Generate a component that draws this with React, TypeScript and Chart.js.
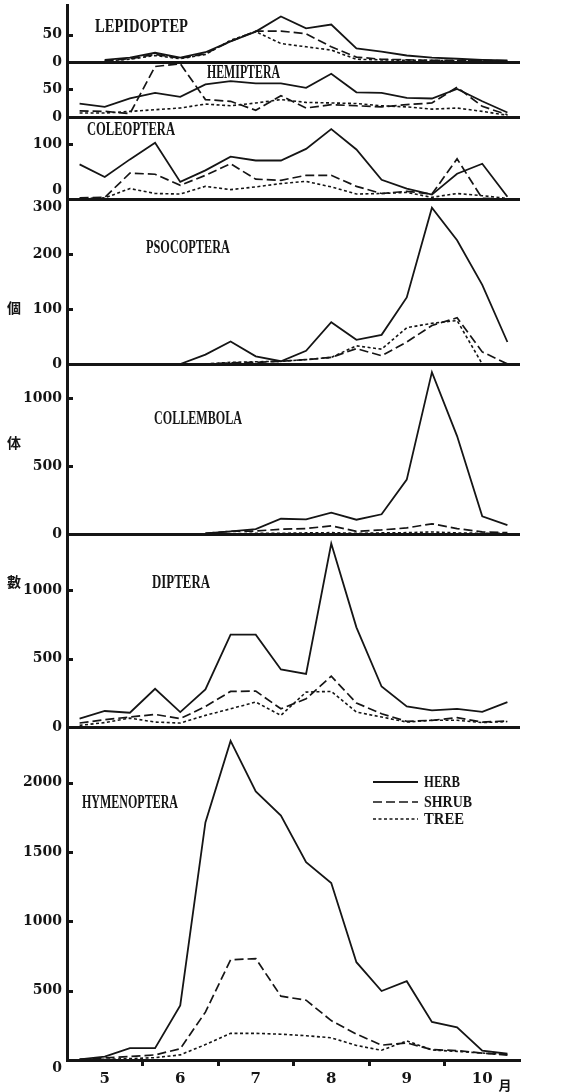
import React, { useEffect, useRef } from 'react';
import { Chart, registerables } from 'chart.js';

Chart.register(...registerables);

const INK = '#151515';

// x: centres of the ten-day periods (early May ... late October), in dekad units
const dekadCenters = [0.5, 1.5, 2.5, 3.5, 4.5, 5.5, 6.5, 7.5, 8.5, 9.5, 10.5, 11.5, 12.5, 13.5, 14.5, 15.5, 16.5, 17.5];
const monthLabels = ['5', '6', '7', '8', '9', '10'];
const monthCenters = [1.5, 4.5, 7.5, 10.5, 13.5, 16.5];
const monthBoundaries = [3, 6, 9, 12, 15];
const seriesNames = ['HERB', 'SHRUB', 'TREE'];
const yUnitChars = ['個', '体', '數'];
const monthUnit = '月';

// LEPIDOPTERA
const lepHerb = [null, 4, 8, 17, 8, 18, 38, 56, 84, 62, 69, 25, 19, 12, 8, 6, 4, 3];
const lepShrub = [null, 3, 6, 14, 7, 15, 38, 57, 57, 52, 28, 9, 5, 4, 3, 3, 3, 2];
const lepTree = [null, 2, 5, 12, 6, 14, 40, 56, 34, 28, 22, 5, 4, 3, 3, 2, 2, 2];
const lepTicks = [0, 50];

// HEMIPTERA
const hemHerb = [24, 18, 33, 43, 36, 58, 64, 60, 60, 52, 77, 44, 43, 34, 33, 50, 28, 8];
const hemShrub = [11, 10, 6, 90, 95, 31, 28, 12, 38, 16, 22, 20, 18, 22, 25, 53, 19, 4];
const hemTree = [7, 7, 10, 13, 16, 23, 20, 25, 31, 26, 25, 24, 20, 18, 14, 16, 10, 3];
const hemTicks = [0, 50];

// COLEOPTERA
const colHerb = [63, 40, 72, 102, 31, 52, 77, 70, 70, 91, 127, 90, 35, 19, 8, 46, 64, 4];
const colShrub = [2, 3, 47, 45, 25, 43, 64, 36, 34, 43, 43, 23, 10, 14, 9, 73, 1, 0];
const colTree = [1, 2, 19, 10, 9, 23, 17, 22, 28, 32, 22, 9, 10, 12, 3, 10, 6, 1];
const colTicks = [0, 100];

// PSOCOPTERA
const psoHerb = [null, null, null, null, 0, 17, 41, 14, 5, 24, 76, 44, 53, 121, 284, 225, 144, 40];
const psoShrub = [null, null, null, null, null, 0, 2, 3, 5, 8, 12, 28, 15, 40, 70, 84, 22, 0];
const psoTree = [null, null, null, null, null, 0, 3, 4, 5, 8, 12, 33, 27, 66, 74, 79, 0, null];
const psoTicks = [0, 100, 200, 300];

// COLLEMBOLA
const cllHerb = [null, null, null, null, null, 5, 20, 36, 112, 108, 157, 105, 145, 400, 1190, 720, 130, 65];
const cllShrub = [null, null, null, null, null, 5, 20, 22, 35, 40, 60, 20, 30, 45, 75, 40, 15, 10];
const cllTree = [null, null, null, null, null, 0, 3, 5, 5, 8, 10, 5, 8, 10, 15, 8, 5, 5];
const cllTicks = [0, 500, 1000];

// DIPTERA
const dipHerb = [61, 117, 104, 279, 109, 274, 675, 675, 420, 388, 1340, 728, 296, 150, 121, 133, 110, 182];
const dipShrub = [29, 53, 73, 92, 61, 150, 260, 262, 133, 206, 371, 175, 97, 41, 49, 68, 36, 44];
const dipTree = [12, 32, 65, 36, 29, 85, 133, 182, 85, 255, 260, 109, 73, 36, 49, 49, 32, 40];
const dipTicks = [0, 500, 1000];

// HYMENOPTERA
const hymHerb = [5, 25, 85, 85, 394, 1712, 2300, 1935, 1762, 1426, 1275, 705, 497, 568, 274, 236, 68, 45];
const hymShrub = [5, 15, 25, 37, 81, 345, 722, 731, 460, 431, 284, 187, 107, 123, 75, 68, 50, 35];
const hymTree = [3, 5, 10, 17, 37, 111, 192, 192, 186, 175, 160, 105, 70, 138, 72, 62, 50, 40];
const hymTicks = [0, 500, 1000, 1500, 2000];

const panels = [
  { id: 'yLep', title: 'LEPIDOPTEP', herb: lepHerb, shrub: lepShrub, tree: lepTree, ticks: lepTicks, max: 105, weight: 57, shift: {}, tb: { dx: 28, dy: 22, w: 93 } },
  { id: 'yHem', title: 'HEMIPTERA', herb: hemHerb, shrub: hemShrub, tree: hemTree, ticks: hemTicks, max: 98, weight: 55, shift: {}, tb: { dx: 140, dy: 11, w: 73 } },
  { id: 'yCol', title: 'COLEOPTERA', herb: colHerb, shrub: colShrub, tree: colTree, ticks: colTicks, max: 149, weight: 82, shift: { 0: 'up' }, tb: { dx: 20, dy: 13, w: 88 } },
  { id: 'yPso', title: 'PSOCOPTERA', herb: psoHerb, shrub: psoShrub, tree: psoTree, ticks: psoTicks, max: 300, weight: 165, shift: { 300: 'down' }, tb: { dx: 79, dy: 49, w: 84 } },
  { id: 'yCll', title: 'COLLEMBOLA', herb: cllHerb, shrub: cllShrub, tree: cllTree, ticks: cllTicks, max: 1250, weight: 170, shift: {}, tb: { dx: 87, dy: 55, w: 88 } },
  { id: 'yDip', title: 'DIPTERA', herb: dipHerb, shrub: dipShrub, tree: dipTree, ticks: dipTicks, max: 1410, weight: 193, shift: {}, tb: { dx: 85, dy: 49, w: 58 } },
  { id: 'yHym', title: 'HYMENOPTERA', herb: hymHerb, shrub: hymShrub, tree: hymTree, ticks: hymTicks, max: 2400, weight: 333, shift: { 0: 'down' }, tb: { dx: 15, dy: 76, w: 96 } },
];

const lineStyles = [
  { width: 1.8, dash: [] as number[] },
  { width: 1.7, dash: [9, 4] },
  { width: 1.6, dash: [3, 2.5] },
];

const tickFont = { family: '"DejaVu Serif", serif', size: 14, weight: 'bold' as const };

const decor = {
  id: 'decor',
  afterDraw(chart: any) {
    const ctx = chart.ctx;
    const area = chart.chartArea;
    ctx.save();
    ctx.strokeStyle = INK;
    ctx.fillStyle = INK;
    // inner tick marks on the y axis
    ctx.lineWidth = 3;
    panels.forEach((p) => {
      const s = chart.scales[p.id];
      p.ticks.forEach((v) => {
        if (v === 0) return;
        const y = Math.round(s.getPixelForValue(v)) + 0.5;
        ctx.beginPath();
        ctx.moveTo(area.left, y);
        ctx.lineTo(area.left + 6, y);
        ctx.stroke();
      });
    });
    // panel titles
    ctx.font = 'bold 18px "Liberation Serif", serif';
    ctx.textBaseline = 'middle';
    ctx.textAlign = 'left';
    panels.forEach((p) => {
      const s = chart.scales[p.id];
      ctx.fillText(p.title, area.left + p.tb.dx, s.top + p.tb.dy, p.tb.w);
    });
    // vertical unit label 個 体 數
    ctx.font = 'bold 14px "Noto Sans CJK JP", sans-serif';
    ctx.textAlign = 'center';
    const unitY = [308, 443, 582];
    yUnitChars.forEach((c, i) => ctx.fillText(c, 14, unitY[i]));
    // month unit
    ctx.font = 'bold 13px "Noto Sans CJK JP", sans-serif';
    ctx.fillText(monthUnit, area.right - 15, area.bottom + 25);
    // legend
    const hym = chart.scales['yHym'];
    const lx0 = area.right - 147;
    const lx1 = area.right - 102;
    const ly = [hym.top + 55, hym.top + 75, hym.top + 92];
    const lw = [36, 48, 40];
    ctx.font = 'bold 16px "Liberation Serif", serif';
    ctx.textAlign = 'left';
    seriesNames.forEach((name, k) => {
      ctx.lineWidth = lineStyles[k].width;
      ctx.setLineDash(lineStyles[k].dash);
      ctx.beginPath();
      ctx.moveTo(lx0, ly[k]);
      ctx.lineTo(lx1, ly[k]);
      ctx.stroke();
      ctx.setLineDash([]);
      ctx.fillText(name, lx1 + 6, ly[k] + 1, lw[k]);
    });
    ctx.restore();
  },
};

export default function App() {
  const ref = useRef<HTMLCanvasElement>(null);
  useEffect(() => {
    const canvas = ref.current;
    if (!canvas) return;
    const scales: any = {
      x: {
        type: 'linear',
        position: 'bottom',
        min: 0,
        max: 18,
        afterBuildTicks: (s: any) => {
          const vals = [...monthCenters, ...monthBoundaries].sort((a, b) => a - b);
          s.ticks = vals.map((v) => ({ value: v }));
        },
        afterFit: (s: any) => {
          s.paddingLeft = 0;
          s.paddingRight = 0;
        },
        ticks: {
          autoSkip: false,
          maxRotation: 0,
          padding: 4,
          color: INK,
          font: { family: '"DejaVu Serif", serif', size: 15, weight: 'bold' },
          callback: (v: number) => {
            const idx = monthCenters.indexOf(v);
            return idx >= 0 ? monthLabels[idx] : '';
          },
        },
        grid: {
          drawOnChartArea: false,
          drawTicks: true,
          tickLength: 6,
          tickWidth: 3,
          tickColor: (c: any) => (c.tick && monthBoundaries.includes(c.tick.value) ? INK : 'rgba(0,0,0,0)'),
        },
        border: { display: true, width: 3, color: INK },
      },
    };
    [...panels].reverse().forEach((p) => {
      scales[p.id] = {
        type: 'linear',
        position: 'left',
        stack: 'panels',
        stackWeight: p.weight,
        min: 0,
        max: p.max,
        offset: false,
        afterBuildTicks: (s: any) => {
          s.ticks = p.ticks.map((v) => ({ value: v }));
        },
        afterFit: (s: any) => {
          s.width = 67;
          s.paddingTop = 0;
          s.paddingBottom = 0;
        },
        ticks: {
          autoSkip: false,
          padding: 5,
          color: INK,
          font: tickFont,
          callback: (v: number) => {
            const sh = (p.shift as any)[v];
            const t = String(v);
            if (sh === 'up') return [t, ''];
            if (sh === 'down') return ['', t];
            return t;
          },
        },
        grid: {
          drawTicks: false,
          color: (c: any) => (c.tick && c.tick.value === 0 ? INK : 'rgba(0,0,0,0)'),
          lineWidth: (c: any) => (c.tick && c.tick.value === 0 ? 3 : 1),
        },
        border: { display: true, width: 3, color: INK },
      };
    });
    const datasets: any[] = [];
    panels.forEach((p) => {
      [p.herb, p.shrub, p.tree].forEach((arr, k) => {
        datasets.push({
          label: `${p.title} ${seriesNames[k]}`,
          data: arr.map((y, i) => ({ x: dekadCenters[i], y })),
          xAxisID: 'x',
          yAxisID: p.id,
          borderColor: INK,
          borderWidth: lineStyles[k].width,
          borderDash: lineStyles[k].dash,
          pointRadius: 0,
          fill: false,
          tension: 0,
          spanGaps: false,
        });
      });
    });
    const chart = new Chart(canvas, {
      type: 'line',
      data: { datasets },
      options: {
        responsive: false,
        animation: false,
        layout: { padding: { top: 5, right: 49, bottom: 0, left: 0 } },
        plugins: { legend: { display: false }, tooltip: { enabled: false } },
        scales,
      } as any,
      plugins: [decor],
    });
    return () => chart.destroy();
  }, []);
  return (
    <div style={{ position: 'absolute', left: 0, top: 0, width: 569, height: 1092, background: '#fff' }}>
      <canvas ref={ref} width={569} height={1092} style={{ display: 'block', width: 569, height: 1092 }} />
    </div>
  );
}
